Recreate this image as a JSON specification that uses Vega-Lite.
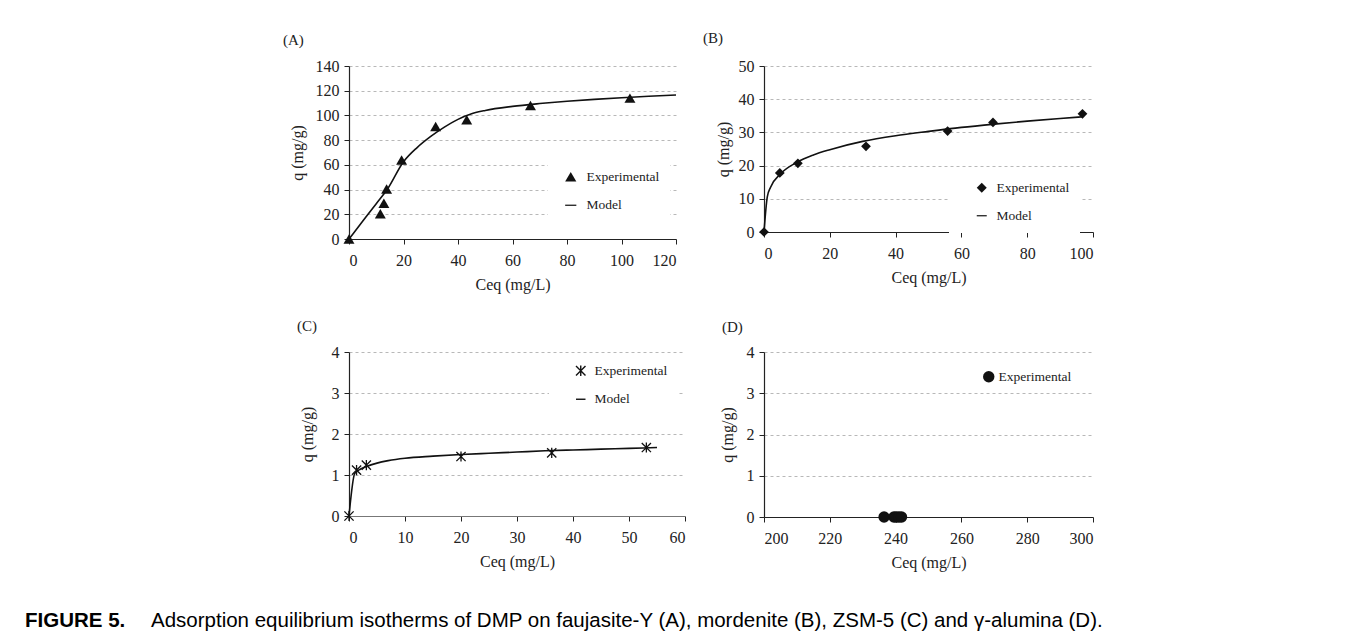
{
  "$schema": "https://vega.github.io/schema/vega-lite/v6.json",
  "background": "white",
  "padding": {"left": 25, "top": 31, "right": 5, "bottom": 5},
  "title": {
    "text": "FIGURE 5.",
    "orient": "bottom",
    "anchor": "start",
    "frame": "bounds",
    "dx": -126,
    "dy": -20.5,
    "offset": 0,
    "font": "Liberation Sans",
    "fontSize": 20.5,
    "fontWeight": "bold",
    "color": "#000"
  },
  "vconcat": [
    {
      "title": {
        "text": "Adsorption equilibrium isotherms of DMP on faujasite-Y (A), mordenite (B), ZSM-5 (C) and γ-alumina (D).",
        "orient": "bottom",
        "anchor": "start",
        "frame": "bounds",
        "dx": -132,
        "offset": 41,
        "font": "Liberation Sans",
        "fontSize": 20.5,
        "fontWeight": "normal",
        "color": "#000"
      },
      "columns": 2,
      "align": "all",
      "bounds": "flush",
      "spacing": {"row": 113, "column": 79},
      "resolve": {
        "scale": {"x": "independent", "y": "independent", "shape": "independent"},
        "legend": {"shape": "independent"}
      },
      "concat": [
        {
          "width": 327,
          "height": 173,
          "title": {"text": "(A)", "anchor": "start", "frame": "group", "dx": -66, "offset": 10},
          "encoding": {
            "x": {"field": "c", "type": "quantitative", "title": "Ceq (mg/L)", "scale": {"domain": [0, 120], "nice": false}, "axis": {"values": [0, 20, 40, 60, 80, 100, 120]}},
            "y": {"field": "q", "type": "quantitative", "title": "q (mg/g)", "scale": {"domain": [0, 140], "nice": false}, "axis": {"values": [0, 20, 40, 60, 80, 100, 120, 140], "titlePadding": 10}}
          },
          "layer": [
            {
              "data": {"values": [
                {"c": 0, "q": 0}, {"c": 5, "q": 14.3}, {"c": 10, "q": 28.6}, {"c": 14, "q": 40},
                {"c": 20, "q": 62.5}, {"c": 25, "q": 74}, {"c": 30, "q": 83}, {"c": 35, "q": 90.5},
                {"c": 40, "q": 96.8}, {"c": 45, "q": 101.3}, {"c": 50, "q": 104}, {"c": 60, "q": 107.3},
                {"c": 70, "q": 109.6}, {"c": 80, "q": 111.5}, {"c": 90, "q": 113}, {"c": 100, "q": 114.3},
                {"c": 110, "q": 115.5}, {"c": 120, "q": 116.5}
              ]},
              "mark": {"type": "line", "color": "#111", "strokeWidth": 1.6, "interpolate": "monotone"}
            },
            {
              "data": {"values": [
                {"c": 0, "q": 0, "series": "Experimental"}, {"c": 11.5, "q": 20.5, "series": "Experimental"},
                {"c": 12.8, "q": 29, "series": "Experimental"}, {"c": 13.8, "q": 40.5, "series": "Experimental"},
                {"c": 19.3, "q": 64, "series": "Experimental"}, {"c": 31.8, "q": 91, "series": "Experimental"},
                {"c": 43.2, "q": 96.5, "series": "Experimental"}, {"c": 66.6, "q": 108, "series": "Experimental"},
                {"c": 103.1, "q": 114, "series": "Experimental"}
              ]},
              "mark": {"type": "point", "filled": true, "color": "#111", "size": 120, "opacity": 1},
              "encoding": {
                "shape": {"field": "series", "type": "nominal",
                  "scale": {"domain": ["Experimental", "Model"], "range": ["triangle-up", "M-1,-0.11L1,-0.11L1,0.11L-1,0.11Z"]},
                  "legend": {"orient": "none", "legendX": 199, "legendY": 94, "padding": 10, "symbolOffset": 6, "labelOffset": 9, "rowPadding": 12.5, "symbolSize": 125,
                    "symbolFillColor": "#111"}}
              }
            }
          ]
        },
        {
          "width": 329,
          "height": 166,
          "title": {"text": "(B)", "anchor": "start", "frame": "group", "dx": -61, "offset": 12},
          "encoding": {
            "x": {"field": "c", "type": "quantitative", "title": "Ceq (mg/L)", "scale": {"domain": [0, 100], "nice": false}, "axis": {"values": [0, 20, 40, 60, 80, 100]}},
            "y": {"field": "q", "type": "quantitative", "title": "q (mg/g)", "scale": {"domain": [0, 50], "nice": false}, "axis": {"values": [0, 10, 20, 30, 40, 50], "titlePadding": 7}}
          },
          "layer": [
            {
              "data": {"values": [
                {"c": 0, "q": 0}, {"c": 1, "q": 10.6}, {"c": 2, "q": 13.5}, {"c": 5, "q": 17.5},
                {"c": 10, "q": 21}, {"c": 15, "q": 23.2}, {"c": 20, "q": 24.8}, {"c": 30, "q": 27.3},
                {"c": 40, "q": 29}, {"c": 50, "q": 30.3}, {"c": 60, "q": 31.5}, {"c": 70, "q": 32.5},
                {"c": 80, "q": 33.4}, {"c": 90, "q": 34.2}, {"c": 97, "q": 34.7}
              ]},
              "mark": {"type": "line", "color": "#111", "strokeWidth": 1.6, "interpolate": "monotone"}
            },
            {
              "data": {"values": [
                {"c": 0, "q": 0, "series": "Experimental"}, {"c": 4.8, "q": 17.8, "series": "Experimental"},
                {"c": 10.3, "q": 20.7, "series": "Experimental"}, {"c": 31, "q": 25.8, "series": "Experimental"},
                {"c": 55.8, "q": 30.4, "series": "Experimental"}, {"c": 69.6, "q": 33, "series": "Experimental"},
                {"c": 96.8, "q": 35.6, "series": "Experimental"}
              ]},
              "mark": {"type": "point", "filled": true, "color": "#111", "size": 95, "opacity": 1},
              "encoding": {
                "shape": {"field": "series", "type": "nominal",
                  "scale": {"domain": ["Experimental", "Model"], "range": ["diamond", "M-1,-0.12L1,-0.12L1,0.12L-1,0.12Z"]},
                  "legend": {"orient": "none", "legendX": 185, "legendY": 105, "padding": 10, "symbolOffset": 16, "labelOffset": 8, "rowPadding": 12, "symbolSize": 100,
                    "symbolFillColor": "#111"}}
              }
            }
          ]
        },
        {
          "width": 336,
          "height": 164,
          "title": {"text": "(C)", "anchor": "start", "frame": "group", "dx": -52, "offset": 10},
          "encoding": {
            "x": {"field": "c", "type": "quantitative", "title": "Ceq (mg/L)", "scale": {"domain": [0, 60], "nice": false}, "axis": {"values": [0, 10, 20, 30, 40, 50, 60], "domainColor": "#777"}},
            "y": {"field": "q", "type": "quantitative", "title": "q (mg/g)", "scale": {"domain": [0, 4], "nice": false}, "axis": {"values": [0, 1, 2, 3, 4], "titlePadding": 16}}
          },
          "layer": [
            {
              "data": {"values": [
                {"c": 0, "q": 0}, {"c": 1, "q": 1.03}, {"c": 1.5, "q": 1.1}, {"c": 2, "q": 1.14},
                {"c": 3, "q": 1.2}, {"c": 5, "q": 1.29}, {"c": 7, "q": 1.35}, {"c": 10, "q": 1.41},
                {"c": 15, "q": 1.46}, {"c": 20, "q": 1.5}, {"c": 25, "q": 1.53}, {"c": 30, "q": 1.56},
                {"c": 35, "q": 1.59}, {"c": 40, "q": 1.61}, {"c": 45, "q": 1.63}, {"c": 50, "q": 1.65},
                {"c": 55, "q": 1.67}
              ]},
              "mark": {"type": "line", "color": "#111", "strokeWidth": 1.6, "interpolate": "monotone"}
            },
            {
              "data": {"values": [
                {"c": 0, "q": 0, "series": "Experimental"}, {"c": 1.35, "q": 1.12, "series": "Experimental"},
                {"c": 3.1, "q": 1.24, "series": "Experimental"}, {"c": 20, "q": 1.45, "series": "Experimental"},
                {"c": 36.2, "q": 1.54, "series": "Experimental"}, {"c": 53.1, "q": 1.67, "series": "Experimental"}
              ]},
              "mark": {"type": "point", "filled": false, "color": "#111", "size": 85, "strokeWidth": 1.3, "opacity": 1},
              "encoding": {
                "shape": {"field": "series", "type": "nominal",
                  "scale": {"domain": ["Experimental", "Model"], "range": ["M-1,-1L1,1M-1,1L1,-1M0,-1.1L0,1.1", "stroke"]},
                  "legend": {"orient": "none", "legendX": 200, "legendY": 2, "padding": 10, "symbolOffset": 15, "labelOffset": 7, "rowPadding": 12.5, "symbolSize": 90,
                    "symbolFillColor": "transparent", "symbolStrokeColor": "#111", "symbolStrokeWidth": 1.4}}
              }
            }
          ]
        },
        {
          "width": 329,
          "height": 165,
          "title": {"text": "(D)", "anchor": "start", "frame": "group", "dx": -42, "offset": 9},
          "data": {"values": [
            {"c": 236.5, "q": 0, "series": "Experimental"}, {"c": 239.5, "q": 0, "series": "Experimental"},
            {"c": 240.2, "q": 0, "series": "Experimental"}, {"c": 241, "q": 0, "series": "Experimental"},
            {"c": 241.8, "q": 0, "series": "Experimental"}
          ]},
          "mark": {"type": "point", "filled": true, "color": "#111", "size": 130, "opacity": 1},
          "encoding": {
            "x": {"field": "c", "type": "quantitative", "title": "Ceq (mg/L)", "scale": {"domain": [200, 300], "nice": false}, "axis": {"values": [200, 220, 240, 260, 280, 300]}},
            "y": {"field": "q", "type": "quantitative", "title": "q (mg/g)", "scale": {"domain": [0, 4], "nice": false}, "axis": {"values": [0, 1, 2, 3, 4], "titlePadding": 11}},
            "shape": {"field": "series", "type": "nominal",
              "scale": {"domain": ["Experimental"], "range": ["circle"]},
              "legend": {"orient": "none", "legendX": 213, "legendY": 13, "padding": 5, "symbolOffset": 0, "labelOffset": 3, "symbolSize": 130,
                "symbolFillColor": "#111", "symbolStrokeWidth": 0}}
          }
        }
      ]
    }
  ],
  "config": {
    "font": "Liberation Serif",
    "view": {"stroke": null},
    "title": {"font": "Liberation Serif", "fontSize": 15, "fontWeight": "normal", "color": "#222"},
    "axis": {
      "labelFont": "Liberation Serif", "labelFontSize": 16, "labelColor": "#222",
      "titleFont": "Liberation Serif", "titleFontSize": 16, "titleFontWeight": "normal", "titleColor": "#222",
      "domainColor": "#222", "domainWidth": 1.2, "tickColor": "#222", "tickSize": 5, "tickWidth": 1,
      "grid": false
    },
    "axisY": {"grid": true, "gridDash": [3, 3], "gridColor": "#b8b8b8", "gridWidth": 1, "labelPadding": 5},
    "axisX": {"titlePadding": 8, "labelPadding": 8, "grid": false},
    "legend": {
      "title": null, "fillColor": "white", "strokeColor": null,
      "labelFont": "Liberation Serif", "labelFontSize": 13.5, "labelColor": "#222"
    }
  }
}
